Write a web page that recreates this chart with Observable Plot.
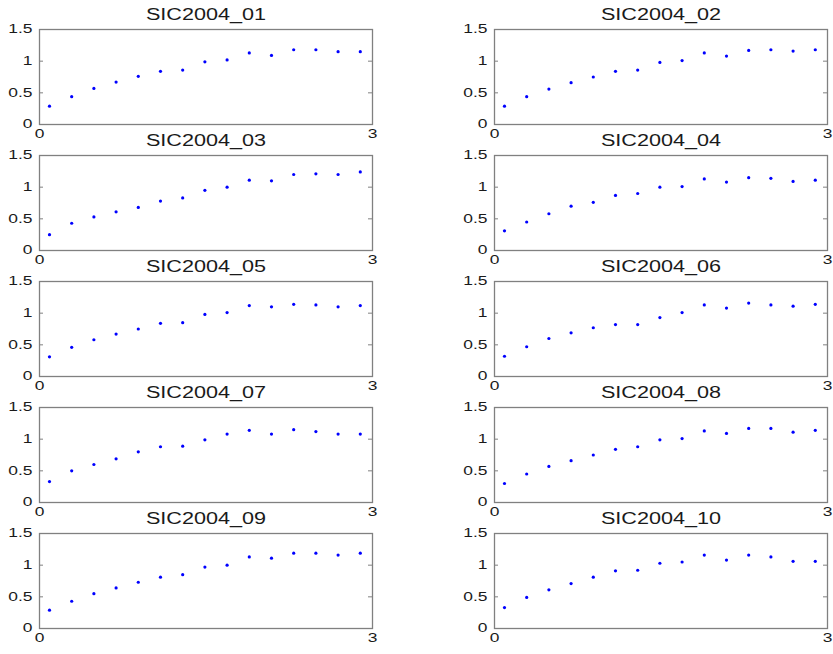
<!DOCTYPE html>
<html>
<head>
<meta charset="utf-8">
<script src="https://cdn.jsdelivr.net/npm/d3@7"></script>
<script src="https://cdn.jsdelivr.net/npm/@observablehq/plot@0.6"></script>
<style>
  html, body { margin: 0; padding: 0; background: #ffffff; }
  #chart { position: relative; width: 833px; height: 654px; overflow: hidden; background: #ffffff; }
  #chart svg { position: absolute; overflow: visible; }
</style>
</head>
<body>
<div id="chart"></div>
<script>
// ---- data ----
const xValues = [0.09, 0.29, 0.49, 0.69, 0.89, 1.09, 1.29, 1.49, 1.69, 1.89, 2.09, 2.29, 2.49, 2.69, 2.89];
const panelNames = ["SIC2004_01", "SIC2004_02", "SIC2004_03", "SIC2004_04", "SIC2004_05",
                    "SIC2004_06", "SIC2004_07", "SIC2004_08", "SIC2004_09", "SIC2004_10"];
const s01 = [0.29, 0.44, 0.57, 0.67, 0.76, 0.84, 0.86, 0.99, 1.02, 1.13, 1.09, 1.18, 1.18, 1.15, 1.15];
const s02 = [0.29, 0.44, 0.56, 0.66, 0.75, 0.84, 0.86, 0.98, 1.01, 1.13, 1.08, 1.17, 1.18, 1.16, 1.18];
const s03 = [0.25, 0.43, 0.53, 0.61, 0.68, 0.78, 0.83, 0.95, 1.00, 1.11, 1.10, 1.20, 1.21, 1.20, 1.24];
const s04 = [0.31, 0.45, 0.58, 0.70, 0.76, 0.87, 0.90, 1.00, 1.01, 1.13, 1.08, 1.15, 1.14, 1.09, 1.11];
const s05 = [0.31, 0.46, 0.58, 0.67, 0.75, 0.84, 0.85, 0.98, 1.01, 1.12, 1.10, 1.14, 1.13, 1.10, 1.12];
const s06 = [0.32, 0.47, 0.60, 0.69, 0.77, 0.82, 0.82, 0.93, 1.01, 1.13, 1.08, 1.16, 1.13, 1.11, 1.14];
const s07 = [0.33, 0.50, 0.60, 0.69, 0.80, 0.88, 0.89, 0.99, 1.08, 1.14, 1.08, 1.15, 1.12, 1.08, 1.08];
const s08 = [0.30, 0.45, 0.57, 0.66, 0.75, 0.84, 0.88, 0.99, 1.01, 1.13, 1.09, 1.17, 1.17, 1.11, 1.14];
const s09 = [0.29, 0.43, 0.55, 0.64, 0.73, 0.81, 0.85, 0.97, 1.00, 1.13, 1.11, 1.19, 1.19, 1.16, 1.19];
const s10 = [0.33, 0.49, 0.61, 0.71, 0.81, 0.91, 0.92, 1.03, 1.05, 1.16, 1.08, 1.16, 1.13, 1.06, 1.06];
const seriesList = [s01, s02, s03, s04, s05, s06, s07, s08, s09, s10];
const xTicks = [0, 3];
const yTicks = [0, 0.5, 1, 1.5];
const yTickLabels = ["0", "0.5", "1", "1.5"];

// ---- layout ----
const FONT = "'Liberation Sans', Arial, Helvetica, sans-serif";
const container = document.getElementById("chart");
const plotW = 333, plotH = 95;
const colLayout = [
  {left: 0, width: 416, marginLeft: 39, marginRight: 44},
  {left: 416, width: 417, marginLeft: 78, marginRight: 6}
];
const rowStep = 126.1;

panelNames.forEach((name, i) => {
  const col = i % 2, row = Math.floor(i / 2);
  const c = colLayout[col];
  const data = xValues.map((x, k) => ({x, y: seriesList[i][k]}));
  const svg = Plot.plot({
    width: c.width,
    height: 140,
    marginLeft: c.marginLeft,
    marginRight: c.marginRight,
    marginTop: 29,
    marginBottom: 16,
    style: {background: "transparent", overflow: "visible", fontFamily: FONT, color: "#1a1a1a"},
    x: {domain: [0, 3]},
    y: {domain: [0, 1.5]},
    marks: [
      Plot.ruleY(yTicks, {stroke: "#808080", strokeWidth: 1, insetRight: plotW - 4}),
      Plot.ruleY(yTicks, {stroke: "#808080", strokeWidth: 1, insetLeft: plotW - 4}),
      Plot.frame({stroke: "#808080", strokeWidth: 1.3}),
      Plot.axisY({ticks: yTicks, tickSize: 0, tickPadding: 7, fontSize: 12,
                  tickFormat: d => yTickLabels[yTicks.indexOf(d)], label: null}),
      Plot.axisX({ticks: xTicks, tickSize: 0, tickPadding: 5, fontSize: 12,
                  tickFormat: d => String(d), label: null}),
      Plot.dot(data, {x: "x", y: "y", r: 1.6, fill: "#0000ff", stroke: "none"}),
      Plot.text([name], {frameAnchor: "top", lineAnchor: "middle", dy: -15, fontSize: 16, fill: "#1a1a1a"})
    ]
  });
  svg.style.left = c.left + "px";
  svg.style.top = (row * rowStep) + "px";
  container.appendChild(svg);
});

// The reference's text is horizontally stretched; widen glyphs to match.
d3.select(container).selectAll("text").each(function() {
  const t = this.textContent || "";
  const len = this.getComputedTextLength();
  if (!len) return;
  const factor = t.startsWith("SIC") ? 1.35 : 1.45;
  this.setAttribute("textLength", (len * factor).toFixed(1));
  this.setAttribute("lengthAdjust", "spacingAndGlyphs");
});
</script>
</body>
</html>
